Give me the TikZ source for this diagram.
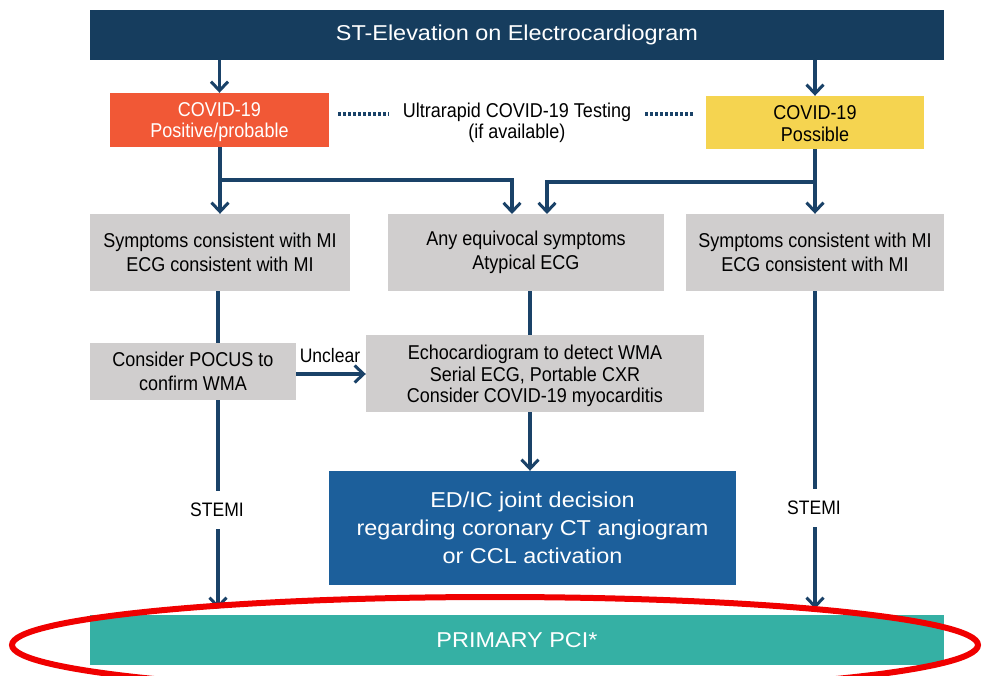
\documentclass[tikz,border=0pt]{standalone}
\usepackage{fontspec}
\setmainfont{Liberation Sans}
\newfontfamily\condf[FakeStretch=0.9]{Liberation Sans}
\newfontfamily\widef[FakeStretch=1.09]{Liberation Sans}
\usetikzlibrary{arrows.meta,positioning}
\definecolor{navy}{RGB}{22,61,94}
\definecolor{arrowc}{RGB}{26,66,104}
\definecolor{covidpos}{RGB}{241,88,54}
\definecolor{covidposs}{RGB}{245,212,80}
\definecolor{boxgray}{RGB}{208,206,206}
\definecolor{edblue}{RGB}{28,95,155}
\definecolor{teal}{RGB}{53,176,164}
\definecolor{ringred}{RGB}{240,0,0}
\tikzset{
  box/.style={rectangle, inner sep=0pt, align=center},
  graybox/.style={box, fill=boxgray, text=black, font=\condf\fontsize{20}{24}\selectfont},
  conn/.style={draw=arrowc, line width=3.4pt},
  arr/.style={conn, -{Straight Barb[length=9pt,width=17pt,line width=3pt]}},
  lbl/.style={inner sep=0pt, text=black, font=\condf\fontsize{19.5}{21}\selectfont},
}
\begin{document}
\begin{tikzpicture}[x=1pt,y=-1pt]
\useasboundingbox (0,0) rectangle (983,676);
\fill[white] (0,0) rectangle (983,676);
% nodes
\node[box, fill=navy, text=white, minimum width=854pt, minimum height=50pt, font=\widef\fontsize{21.5}{26}\selectfont] (title) at (517,35) {ST-Elevation on Electrocardiogram};
\node[box, fill=covidpos, minimum width=219pt, minimum height=54pt] (pos) at (219.5,120) {};
\node[text=white, inner sep=0pt, align=center, font=\condf\fontsize{20}{21.5}\selectfont] (postxt) at (219.5,122) {COVID-19\\Positive/probable};
\node[box, fill=covidposs, minimum width=218pt, minimum height=53pt] (poss) at (815,122.5) {};
\node[text=black, inner sep=0pt, align=center, font=\condf\fontsize{20}{21.5}\selectfont] (posstxt) at (815,123.5) {COVID-19\\Possible};
\node[lbl, align=center, font=\condf\fontsize{20}{21.5}\selectfont] (test) at (517,123) {Ultrarapid COVID-19 Testing\\(if available)};
\node[graybox, minimum width=260pt, minimum height=77pt] (left) at (220,252.5) {Symptoms consistent with MI\\ECG consistent with MI};
\node[graybox, minimum width=276pt, minimum height=77pt] (mid) at (526,252.5) {Any equivocal symptoms\\Atypical ECG};
\node[graybox, minimum width=258pt, minimum height=77pt] (right) at (815,252.5) {Symptoms consistent with MI\\ECG consistent with MI};
\node[graybox, minimum width=206pt, minimum height=57pt] (pocus) at (193,371.5) {Consider POCUS to\\confirm WMA};
\node[box, fill=boxgray, minimum width=338pt, minimum height=77pt] (echo) at (535,373.5) {};
\node[text=black, inner sep=0pt, align=center, font=\condf\fontsize{20}{21.5}\selectfont] (echotxt) at (535,376) {Echocardiogram to detect WMA\\Serial ECG, Portable CXR\\Consider COVID-19 myocarditis};
\node[box, fill=edblue, text=white, minimum width=407pt, minimum height=114pt, font=\widef\fontsize{21.5}{28}\selectfont] (edic) at (532.5,528) {ED/IC joint decision\\regarding coronary CT angiogram\\or CCL activation};
\node[box, fill=teal, text=white, minimum width=854pt, minimum height=50pt, font=\widef\fontsize{21.5}{24}\selectfont] (pci) at (517,640) {PRIMARY PCI*};
\node[lbl, inner ysep=12pt] (stemiL) at (217,510) {STEMI};
\node[lbl, inner ysep=12pt] (stemiR) at (814,508) {STEMI};
\node[lbl, anchor=south] (unclear) at (330,363) {Unclear};
% coordinates
\coordinate (jL) at (220,180);
\coordinate (jR) at (815,182);
% connectors
\draw[arr] (title.south -| pos) -- (pos.north);
\draw[arr] (title.south -| poss) -- (poss.north);
\draw[conn, line width=4pt, dash pattern=on 3pt off 2pt] (338,114) -- (389,114);
\draw[conn, line width=4pt, dash pattern=on 3pt off 2pt] (645,114) -- (694,114);
\draw[arr] (pos.south -| jL) -- (left.north -| jL);
\draw[arr] (jL) -| (512,214);
\draw[arr] (poss.south -| jR) -- (right.north -| jR);
\draw[arr] (jR) -| (547,214);
\draw[conn] (left.south -| 218,0) -- (pocus.north -| 218,0);
\draw[conn] (pocus.south -| 218,0) -- (stemiL.north -| 218,0);
\draw[arr, shorten >=6pt] (stemiL.south -| 218,0) -- (pci.north -| 218,0);
\draw[conn] (right.south -| jR) -- (stemiR.north -| jR);
\draw[arr, shorten >=6pt] (stemiR.south -| jR) -- (pci.north -| jR);
\draw[conn] (mid.south -| 530,0) -- (echo.north -| 530,0);
\draw[arr] (echo.south -| 530,0) -- (edic.north -| 530,0);
\draw[arr] (pocus.east |- 0,374) -- (echo.west |- 0,374);
% red ring
\draw[ringred, line width=6pt] (495,645) ellipse [x radius=483, y radius=48];
\end{tikzpicture}
\end{document}
